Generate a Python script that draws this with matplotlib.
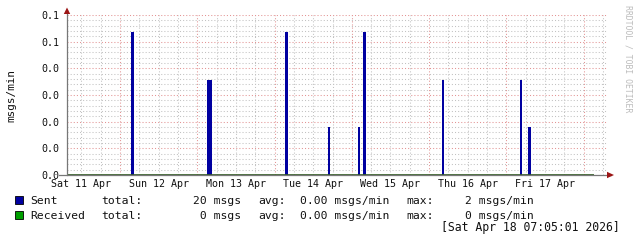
import matplotlib
matplotlib.use("Agg")
import matplotlib.pyplot as plt
from matplotlib.patches import Polygon, Rectangle
from matplotlib.lines import Line2D

# ---------------- data ----------------
# time in hours since Sat 11 Apr 00:00
sent_times = [27.94, 51.39, 52.17, 75.74, 88.87, 98.18, 99.95, 124.25, 148.45, 151.15]
sent_values = [0.0536, 0.0357, 0.0357, 0.0536, 0.0179, 0.0179, 0.0536, 0.0357, 0.0357, 0.0179]
received_times = [7.55, 171.1]
received_values = [0.0, 0.0]

x_tick_pos = [12, 36, 60, 84, 108, 132, 156]
x_tick_labels = ["Sat 11 Apr", "Sun 12 Apr", "Mon 13 Apr", "Tue 14 Apr",
                 "Wed 15 Apr", "Thu 16 Apr", "Fri 17 Apr"]
y_tick_pos = [0.0, 0.01, 0.02, 0.03, 0.04, 0.05, 0.06]
y_tick_labels = ["0.0", "0.0", "0.0", "0.0", "0.0", "0.1", "0.1"]

legend_rows = [
    ("Sent", "20 msgs", "0.00 msgs/min", "2 msgs/min"),
    ("Received", " 0 msgs", "0.00 msgs/min", "0 msgs/min"),
]
timestamp = "[Sat Apr 18 07:05:01 2026]"
y_label = "msgs/min"
watermark = "RRDTOOL / TOBI OETIKER"

# ---------------- style ----------------
W, H = 637, 243
MONO = "DejaVu Sans Mono"
SENT_C = "#0000a0"
RECV_C = "#00a000"
RECV_LINE_C = "#2e5a1e"
MAJ_C = "#e39494"
MIN_C = "#c2c2c2"
AXIS_C = "#777777"
ARROW_C = "#9c1515"
TXT_C = "#111111"

X0, X1 = 7.55, 175.55
Y0, Y1 = 0.0, 0.06

fig = plt.figure(figsize=(W / 100, H / 100), dpi=100)
fig.patch.set_facecolor("white")

L, R, T, B = 67, 608, 15, 175
ax = fig.add_axes([L / W, 1 - B / H, (R - L) / W, (B - T) / H])
ax.set_xlim(X0, X1)
ax.set_ylim(Y0, Y1)
for s in ax.spines.values():
    s.set_visible(False)
ax.set_facecolor("white")

dots = (0, (1.0, 2.0))
lw = 0.75
# minor horizontal grid
k = 0
while True:
    y = Y0 + k * 0.002
    if y > Y1 + 1e-9:
        break
    if k % 5 != 0:
        ax.axhline(y, color=MIN_C, lw=lw, linestyle=dots, zorder=1)
    k += 1
# minor vertical grid (6 h)
h = 0
while h <= X1:
    if h >= X0 and h % 24 != 0:
        ax.axvline(h, color=MIN_C, lw=lw, linestyle=dots, zorder=1)
    h += 6
# major grid
for y in y_tick_pos:
    if y > 0:
        ax.axhline(y, color=MAJ_C, lw=lw, linestyle=dots, zorder=1.5)
h = 24
while h <= X1:
    ax.axvline(h, color=MAJ_C, lw=lw, linestyle=dots, zorder=1.5)
    h += 24

# data
ax.bar(sent_times, sent_values, width=0.75, color=SENT_C, linewidth=0, zorder=3)
ax.plot(received_times, received_values, color=RECV_LINE_C, lw=1.2, zorder=4,
        solid_capstyle="butt", clip_on=False)

# ticks
ax.set_xticks(x_tick_pos)
ax.set_xticklabels(x_tick_labels, fontfamily=MONO, fontsize=7.2, color=TXT_C)
ax.set_yticks(y_tick_pos)
ax.set_yticklabels(y_tick_labels, fontfamily=MONO, fontsize=7.2, color=TXT_C)
ax.tick_params(axis="x", length=0, pad=3.2)
ax.tick_params(axis="y", length=0, pad=5.5)

# axes lines + arrows (pixel coords -> figure fraction)
def fx(x):
    return x / W

def fy(y):
    return 1 - y / H

fig.add_artist(Line2D([fx(59), fx(611)], [fy(175), fy(175)], color=AXIS_C, lw=0.9, zorder=2))
fig.add_artist(Line2D([fx(67), fx(67)], [fy(175), fy(10)], color=AXIS_C, lw=0.9, zorder=2))
fig.add_artist(Polygon([(fx(63.8), fy(14)), (fx(70.2), fy(14)), (fx(67), fy(7.5))],
                       closed=True, color=ARROW_C, lw=0, zorder=5))
fig.add_artist(Polygon([(fx(607), fy(171.8)), (fx(607), fy(178.2)), (fx(614), fy(175))],
                       closed=True, color=ARROW_C, lw=0, zorder=5))

# y label
fig.text(fx(11), fy(95), y_label, rotation=90, ha="center", va="center",
         fontfamily=MONO, fontsize=7.9, color=TXT_C)
# watermark
fig.text(fx(628), fy(5), watermark, rotation=-90, ha="center", va="top",
         fontfamily=MONO, fontsize=5.9, color="#bcbcbc")

# legend
colors = [SENT_C, RECV_C]
baselines = [204, 219]
for (name, total, avg, mx), c, yb in zip(legend_rows, colors, baselines):
    fig.add_artist(Rectangle((fx(15), fy(yb)), 8 / W, 8 / H, facecolor=c,
                             edgecolor="#000000", lw=0.6, zorder=5))
    kw = dict(fontfamily=MONO, fontsize=8.2, color=TXT_C, va="baseline", ha="left")
    fig.text(fx(30.5), fy(yb), name, **kw)
    fig.text(fx(101.5), fy(yb), "total:", **kw)
    fig.text(fx(193), fy(yb), total, **kw)
    fig.text(fx(258), fy(yb), "avg:", **kw)
    fig.text(fx(300), fy(yb), avg, **kw)
    fig.text(fx(406.5), fy(yb), "max:", **kw)
    fig.text(fx(465), fy(yb), mx, **kw)

fig.text(fx(441), fy(231), timestamp, fontfamily=MONO, fontsize=8.3, color=TXT_C,
         va="baseline", ha="left")

fig.savefig("out.png", dpi=100, facecolor="white")
